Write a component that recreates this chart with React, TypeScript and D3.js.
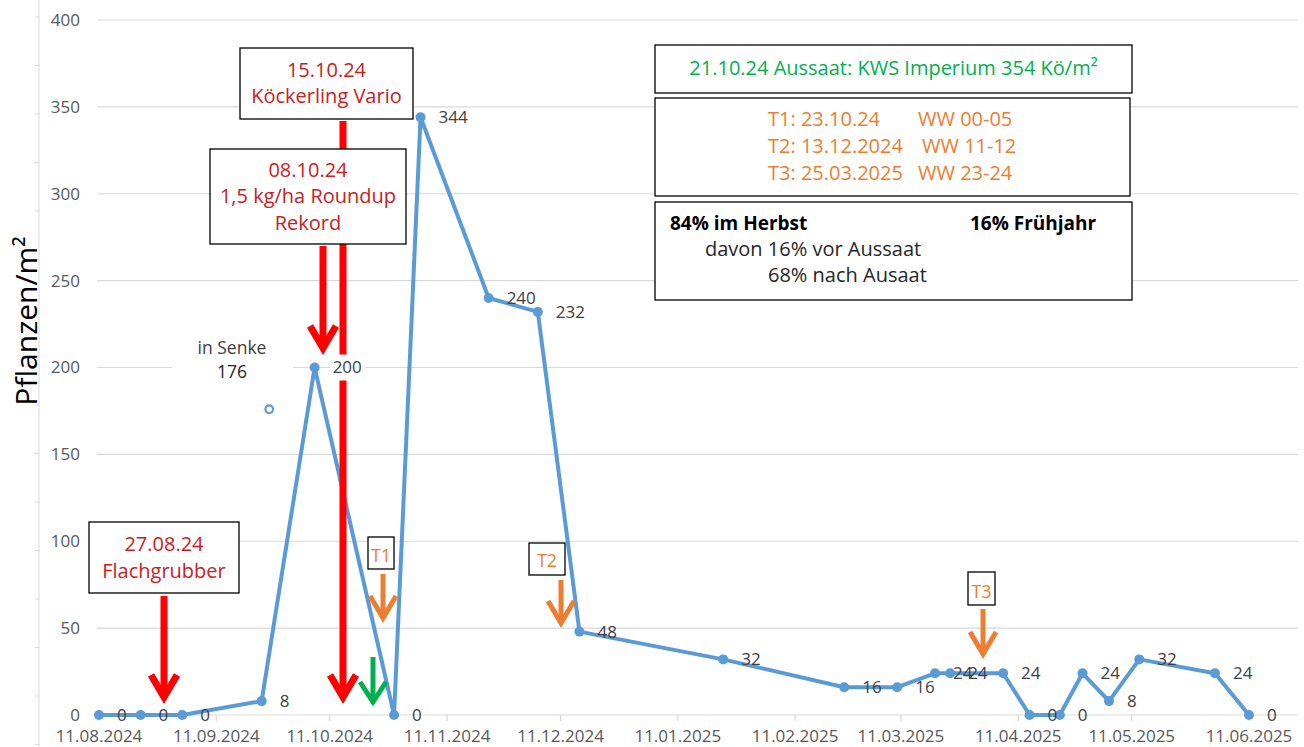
import React from "react";
import * as d3 from "d3";

// counts per m² on the sampling dates
const sampleDates = [
  "2024-08-11", "2024-08-22", "2024-09-02", "2024-09-23", "2024-10-07",
  "2024-10-28", "2024-11-04", "2024-11-22", "2024-12-05", "2024-12-16",
  "2025-01-23", "2025-02-24", "2025-03-10", "2025-03-20", "2025-03-24",
  "2025-04-07", "2025-04-14", "2025-04-22", "2025-04-28", "2025-05-05",
  "2025-05-13", "2025-06-02", "2025-06-11",
];
const plants = [0, 0, 0, 8, 200, 0, 344, 240, 232, 48, 32, 16, 16, 24, 24, 24, 0, 0, 24, 8, 32, 24, 0];

const senkeDate = "2024-09-25";
const senkeValue = 176;

const xTickDates = [
  "2024-08-11", "2024-09-11", "2024-10-11", "2024-11-11", "2024-12-11",
  "2025-01-11", "2025-02-11", "2025-03-11", "2025-04-11", "2025-05-11", "2025-06-11",
];
const yTicks = [0, 50, 100, 150, 200, 250, 300, 350, 400];

const width = 1304;
const height = 747;
const font = "'Open Sans', sans-serif";
const blue = "#5B9BD5";
const red = "#FF0000";
const darkRed = "#C9211E";
const orange = "#ED7D31";
const green = "#00B050";

const parse = d3.utcParse("%Y-%m-%d");
const fmt = d3.utcFormat("%d.%m.%Y");

const Arrow = ({ x, y1, tip, color, sw, arm = 13, drop = 22 }) => (
  <g stroke={color} strokeWidth={sw} fill="none">
    <line x1={x} x2={x} y1={y1} y2={tip - 2} />
    <polyline
      points={`${x - arm},${tip - drop} ${x},${tip} ${x + arm},${tip - drop}`}
      strokeLinejoin="miter"
    />
  </g>
);

const Box = ({ x, y, w, h, lines, color, size = 20 }) => (
  <g>
    <rect x={x} y={y} width={w} height={h} fill="#fff" stroke="#000" strokeWidth={1.3} />
    {lines.map((l) => (
      <text
        key={l.t}
        x={x + w / 2}
        y={l.y}
        dy="0.35em"
        textAnchor="middle"
        fill={color}
        fontSize={size}
        fontFamily={font}
      >
        {l.t}
      </text>
    ))}
  </g>
);

const App = () => {
  const data = sampleDates.map((d, i) => ({ date: parse(d), value: plants[i] }));

  const xScale = d3
    .scaleUtc()
    .domain([parse("2024-08-11"), parse("2025-06-11")])
    .range([99, 1249]);

  const yScale = d3.scaleLinear().domain([0, 400]).range([715, 20]);

  const plotLeft = 97;
  const plotRight = 1298;

  const line = d3
    .line()
    .x((d) => xScale(d.date))
    .y((d) => yScale(d.value));

  const peak = data[4];

  return (
    <svg
      width={width}
      height={height}
      style={{ position: "absolute", left: 0, top: 0, background: "#fff" }}
    >
      {/* left frame line */}
      <line x1={39} x2={39} y1={0} y2={height} stroke="#D9D9D9" strokeWidth={1} />
      {d3.range(17, height, 48.5).map((t) => (
        <line key={t} x1={35} x2={39} y1={t} y2={t} stroke="#D9D9D9" />
      ))}

      {/* y grid + labels */}
      {yTicks.map((t) => (
        <g key={t}>
          <line
            x1={plotLeft}
            x2={plotRight}
            y1={yScale(t)}
            y2={yScale(t)}
            stroke="#D9D9D9"
            strokeWidth={1.2}
          />
          <text
            x={80}
            y={yScale(t)}
            dy="0.35em"
            textAnchor="end"
            fill="#595959"
            fontSize={17}
            fontFamily={font}
          >
            {t}
          </text>
        </g>
      ))}

      {/* x ticks */}
      {xTickDates.map((d) => {
        const x = xScale(parse(d));
        return (
          <g key={d}>
            <line x1={x} x2={x} y1={715} y2={721} stroke="#D9D9D9" strokeWidth={1.2} />
            <text
              x={x}
              y={736}
              dy="0.35em"
              textAnchor="middle"
              fill="#595959"
              fontSize={17}
              fontFamily={font}
            >
              {fmt(parse(d))}
            </text>
          </g>
        );
      })}

      <text
        transform="translate(37,321) rotate(-90)"
        textAnchor="middle"
        fontSize={30}
        fontFamily={font}
        fill="#000"
      >
        Pflanzen/m²
      </text>

      {/* "in Senke" label */}
      <rect x={172} y={335} width={121} height={50} fill="#fff" />
      <text x={232} y={348} dy="0.35em" textAnchor="middle" fontSize={17.5} fontFamily={font} fill="#404040">
        in Senke
      </text>
      <text x={232} y={372} dy="0.35em" textAnchor="middle" fontSize={17.5} fontFamily={font} fill="#262626">
        {senkeValue}
      </text>
      <circle
        cx={xScale(parse(senkeDate))}
        cy={yScale(senkeValue)}
        r={3.8}
        fill="#fff"
        stroke={blue}
        strokeWidth={2.2}
      />

      {/* series */}
      <path d={line(data)} fill="none" stroke={blue} strokeWidth={4} strokeLinejoin="round" />
      {data.map((d, i) => (
        <circle key={i} cx={xScale(d.date)} cy={yScale(d.value)} r={5} fill={blue} />
      ))}

      {/* arrows */}
      <Arrow x={164} y1={596} tip={697} color={red} sw={7} />
      <Arrow x={343} y1={121} tip={697} color={red} sw={7} />
      <Arrow x={323} y1={246} tip={348} color={red} sw={7} />
      <Arrow x={373} y1={657} tip={702} color={green} sw={5} arm={13} drop={20} />
      <Arrow x={383} y1={574} tip={618} color={orange} sw={5} />
      <Arrow x={561} y1={580} tip={623} color={orange} sw={5} />
      <Arrow x={983} y1={609} tip={654} color={orange} sw={5} />

      {/* label box over the long arrow at the 200 peak */}
      <rect x={xScale(peak.date) + 16} y={yScale(peak.value) - 13} width={34} height={26} fill="#fff" />

      {/* data labels */}
      {data.map((d, i) => (
        <text
          key={"l" + i}
          x={xScale(d.date) + 18}
          y={yScale(d.value)}
          dy="0.35em"
          fill="#404040"
          fontSize={17}
          fontFamily={font}
        >
          {d.value}
        </text>
      ))}

      {/* annotation boxes */}
      <Box x={240} y={48} w={173} h={71} color={darkRed}
        lines={[{ t: "15.10.24", y: 70 }, { t: "Köckerling Vario", y: 96 }]} />
      <Box x={210} y={149} w={196} h={95} color={darkRed}
        lines={[{ t: "08.10.24", y: 170 }, { t: "1,5 kg/ha Roundup", y: 196 }, { t: "Rekord", y: 223 }]} />
      <Box x={89} y={522} w={150} h={71} color={darkRed}
        lines={[{ t: "27.08.24", y: 544 }, { t: "Flachgrubber", y: 571 }]} />
      <Box x={368} y={537} w={26} h={32} color={orange} size={18}
        lines={[{ t: "T1", y: 556 }]} />
      <Box x={529} y={543} w={36} h={32} color={orange} size={18}
        lines={[{ t: "T2", y: 561 }]} />
      <Box x={968} y={572} w={27} h={33} color={orange} size={18}
        lines={[{ t: "T3", y: 592 }]} />

      <Box x={655} y={45} w={477} h={48} color={green}
        lines={[{ t: "21.10.24 Aussaat: KWS Imperium 354 Kö/m²", y: 68 }]} />

      <rect x={655} y={98} width={475} height={98} fill="#fff" stroke="#000" strokeWidth={1.3} />
      {[
        ["T1: 23.10.24", "WW 00-05", 119, 918],
        ["T2: 13.12.2024", "WW 11-12", 146, 922],
        ["T3: 25.03.2025", "WW 23-24", 173, 918],
      ].map(([a, b, y, bx]) => (
        <g key={a} fill={orange} fontSize={20} fontFamily={font}>
          <text x={768} y={y} dy="0.35em">{a}</text>
          <text x={bx} y={y} dy="0.35em">{b}</text>
        </g>
      ))}

      <rect x={655} y={202} width={477} height={98} fill="#fff" stroke="#000" strokeWidth={1.3} />
      <g fontSize={20} fontFamily={font} fill="#000">
        <text x={670} y={223} dy="0.35em" fontWeight="bold" fontSize={19}>84% im Herbst</text>
        <text x={970} y={223} dy="0.35em" fontWeight="bold" fontSize={19}>16% Frühjahr</text>
        <text x={705} y={249} dy="0.35em" fill="#262626">davon 16% vor Aussaat</text>
        <text x={768} y={275} dy="0.35em" fill="#262626">68% nach Ausaat</text>
      </g>
    </svg>
  );
};

export default App;
